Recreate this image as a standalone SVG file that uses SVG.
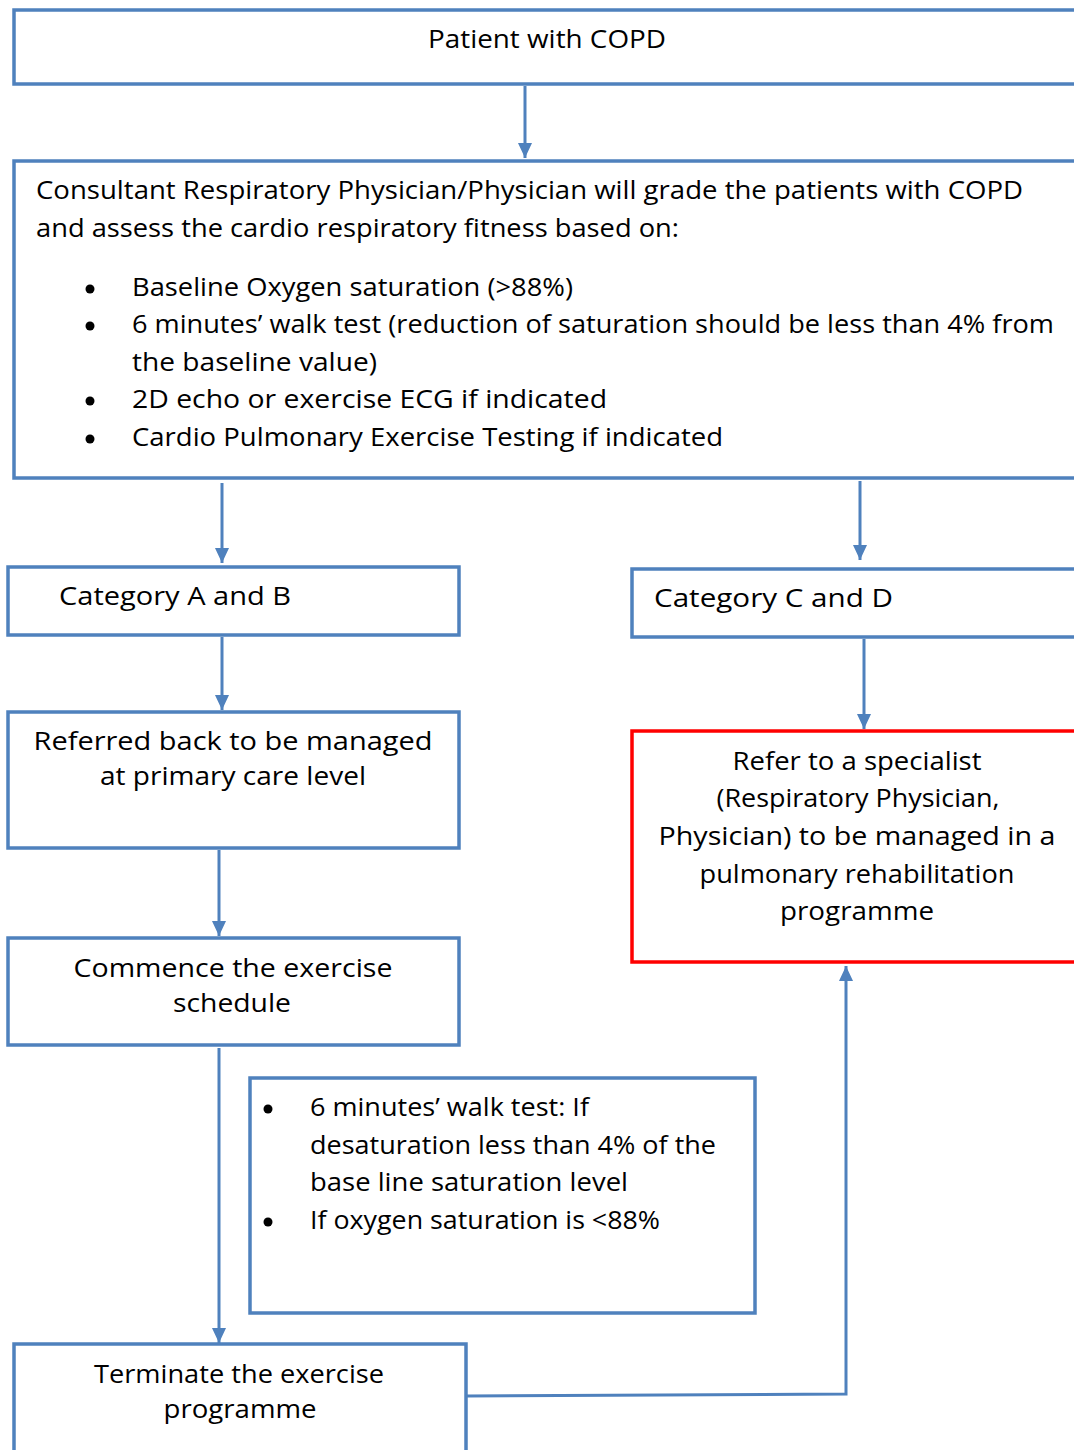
<svg xmlns="http://www.w3.org/2000/svg" width="1074" height="1450" viewBox="0 0 1074 1450">
<style>
.box{fill:#fff;stroke:#4F81BD;stroke-width:3.5}
.red{fill:#fff;stroke:#FF0000;stroke-width:3.5}
.t{font-family:"Open Sans","Liberation Sans",sans-serif;font-size:26px;fill:#000}
.c{text-anchor:middle}
.con{fill:none;stroke:#4F81BD;stroke-width:3}
.dot{fill:#000}
</style>
<defs>
<marker id="ah" viewBox="0 0 15 14" markerWidth="15" markerHeight="14" refX="15" refY="7" orient="auto" markerUnits="userSpaceOnUse">
<path d="M0,0 L15,7 L0,14 z" fill="#4F81BD"/>
</marker>
</defs>
<g id="connectors">
<line class="con" x1="525" y1="86" x2="525" y2="158" marker-end="url(#ah)"/>
<line class="con" x1="222" y1="483" x2="222" y2="563" marker-end="url(#ah)"/>
<line class="con" x1="860" y1="481" x2="860" y2="560" marker-end="url(#ah)"/>
<line class="con" x1="222" y1="637" x2="222" y2="710" marker-end="url(#ah)"/>
<line class="con" x1="864" y1="639" x2="864" y2="729" marker-end="url(#ah)"/>
<line class="con" x1="219" y1="850" x2="219" y2="936" marker-end="url(#ah)"/>
<line class="con" x1="219" y1="1048" x2="219" y2="1343" marker-end="url(#ah)"/>
<polyline class="con" points="467,1396 846,1394 846,966" marker-end="url(#ah)"/>
</g>
<g id="n1">
<rect class="box" x="14" y="10" width="1080" height="74"/>
<text class="t c" x="547" y="48" textLength="238" lengthAdjust="spacingAndGlyphs">Patient with COPD</text>
</g>
<g id="n2">
<rect class="box" x="14" y="161" width="1080" height="317"/>
<text class="t" x="36" y="199" textLength="987" lengthAdjust="spacingAndGlyphs">Consultant Respiratory Physician/Physician will grade the patients with COPD</text>
<text class="t" x="36" y="237" textLength="643" lengthAdjust="spacingAndGlyphs">and assess the cardio respiratory fitness based on:</text>
<circle class="dot" cx="90" cy="289" r="4.5"/>
<circle class="dot" cx="90" cy="326" r="4.5"/>
<circle class="dot" cx="90" cy="401" r="4.5"/>
<circle class="dot" cx="90" cy="439" r="4.5"/>
<text class="t" x="132" y="296" textLength="441" lengthAdjust="spacingAndGlyphs">Baseline Oxygen saturation (&gt;88%)</text>
<text class="t" x="132" y="333" textLength="922" lengthAdjust="spacingAndGlyphs">6 minutes’ walk test (reduction of saturation should be less than 4% from</text>
<text class="t" x="132" y="371" textLength="245" lengthAdjust="spacingAndGlyphs">the baseline value)</text>
<text class="t" x="132" y="408" textLength="475" lengthAdjust="spacingAndGlyphs">2D echo or exercise ECG if indicated</text>
<text class="t" x="132" y="446" textLength="591" lengthAdjust="spacingAndGlyphs">Cardio Pulmonary Exercise Testing if indicated</text>
</g>
<g id="n3">
<rect class="box" x="8" y="567" width="451" height="68"/>
<text class="t" x="59" y="605" textLength="232" lengthAdjust="spacingAndGlyphs">Category A and B</text>
</g>
<g id="n4">
<rect class="box" x="632" y="569" width="460" height="68"/>
<text class="t" x="654" y="607" textLength="239" lengthAdjust="spacingAndGlyphs">Category C and D</text>
</g>
<g id="n5">
<rect class="box" x="8" y="712" width="451" height="136"/>
<text class="t c" x="233" y="750" textLength="399" lengthAdjust="spacingAndGlyphs">Referred back to be managed</text>
<text class="t c" x="233" y="785" textLength="266" lengthAdjust="spacingAndGlyphs">at primary care level</text>
</g>
<g id="n6">
<rect class="red" x="632" y="731" width="460" height="231"/>
<text class="t c" x="857" y="770" textLength="249" lengthAdjust="spacingAndGlyphs">Refer to a specialist</text>
<text class="t c" x="858" y="807" textLength="283" lengthAdjust="spacingAndGlyphs">(Respiratory Physician,</text>
<text class="t c" x="857" y="845" textLength="397" lengthAdjust="spacingAndGlyphs">Physician) to be managed in a</text>
<text class="t c" x="857" y="883" textLength="315" lengthAdjust="spacingAndGlyphs">pulmonary rehabilitation</text>
<text class="t c" x="857" y="920" textLength="154" lengthAdjust="spacingAndGlyphs">programme</text>
</g>
<g id="n7">
<rect class="box" x="8" y="938" width="451" height="107"/>
<text class="t c" x="233" y="977" textLength="319" lengthAdjust="spacingAndGlyphs">Commence the exercise</text>
<text class="t c" x="232" y="1012" textLength="118" lengthAdjust="spacingAndGlyphs">schedule</text>
</g>
<g id="n8">
<rect class="box" x="250" y="1078" width="505" height="235"/>
<circle class="dot" cx="268" cy="1109" r="4.5"/>
<circle class="dot" cx="268" cy="1222" r="4.5"/>
<text class="t" x="310" y="1116" textLength="279" lengthAdjust="spacingAndGlyphs">6 minutes’ walk test: If</text>
<text class="t" x="310" y="1154" textLength="406" lengthAdjust="spacingAndGlyphs">desaturation less than 4% of the</text>
<text class="t" x="310" y="1191" textLength="318" lengthAdjust="spacingAndGlyphs">base line saturation level</text>
<text class="t" x="310" y="1229" textLength="350" lengthAdjust="spacingAndGlyphs">If oxygen saturation is &lt;88%</text>
</g>
<g id="n9">
<rect class="box" x="14" y="1344" width="452" height="120"/>
<text class="t c" x="239" y="1383" textLength="290" lengthAdjust="spacingAndGlyphs">Terminate the exercise</text>
<text class="t c" x="240" y="1418" textLength="153" lengthAdjust="spacingAndGlyphs">programme</text>
</g>
</svg>
